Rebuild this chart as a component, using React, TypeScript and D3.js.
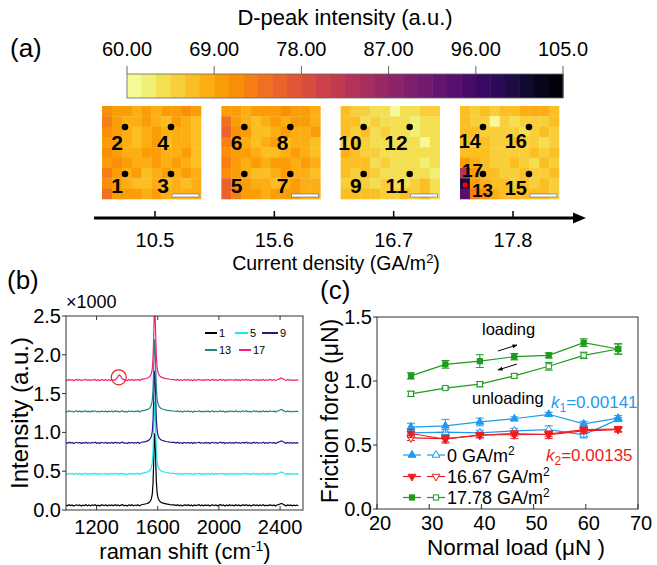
import React from 'react';
import * as d3 from 'd3';

const FONT = 'Liberation Sans, Arial, Helvetica, sans-serif';

// ---- (a) colour bar + maps ----
const CBAR_TICKS = [60, 69, 78, 87, 96, 105];
const CBAR_LABELS = ['60.00', '69.00', '78.00', '87.00', '96.00', '105.0'];
const DENSITIES = ['10.5', '15.6', '16.7', '17.8'];

const MAP_1 = [
  [71, 69, 69, 68, 69, 68, 69, 70, 71, 69],
  [73, 70, 68, 68, 69, 68, 67, 69, 68, 67],
  [71, 69, 68, 67, 68, 69, 68, 68, 68, 67],
  [70, 69, 68, 66, 68, 69, 67, 68, 68, 66],
  [71, 70, 68, 68, 70, 69, 68, 68, 69, 67],
  [70, 71, 69, 68, 68, 70, 68, 69, 68, 67],
  [72, 70, 68, 69, 67, 68, 69, 68, 69, 68],
  [71, 69, 68, 67, 66, 68, 67, 68, 67, 68],
  [74, 70, 69, 69, 68, 69, 68, 68, 68, 68],
];
const MAP_2 = [
  [69, 70, 68, 69, 70, 69, 71, 70, 70, 68],
  [74, 70, 68, 67, 68, 69, 68, 70, 69, 68],
  [75, 71, 69, 67, 66, 68, 69, 68, 68, 69],
  [72, 70, 68, 66, 68, 69, 67, 68, 68, 67],
  [71, 70, 69, 68, 67, 66, 68, 69, 68, 67],
  [72, 70, 68, 69, 68, 69, 70, 68, 69, 68],
  [71, 69, 68, 67, 66, 68, 69, 68, 68, 67],
  [75, 71, 69, 68, 68, 67, 68, 69, 68, 68],
  [76, 72, 70, 69, 68, 69, 69, 70, 68, 68],
];
const MAP_3 = [
  [66, 65, 65, 63, 64, 61, 63, 64, 65, 65],
  [67, 66, 64, 65, 63, 64, 63, 62, 64, 64],
  [66, 65, 66, 64, 65, 63, 64, 62, 63, 64],
  [65, 66, 65, 64, 64, 64, 63, 64, 61, 64],
  [68, 66, 65, 65, 64, 63, 64, 63, 63, 64],
  [67, 67, 66, 64, 65, 64, 63, 64, 62, 63],
  [66, 65, 66, 65, 64, 64, 63, 64, 63, 62],
  [65, 66, 65, 64, 65, 63, 64, 65, 66, 64],
  [66, 67, 66, 66, 65, 65, 66, 65, 66, 64],
];
const MAP_4 = [
  [66, 65, 66, 65, 66, 67, 68, 68, 68, 67],
  [66, 65, 65, 61, 65, 64, 65, 65, 65, 66],
  [67, 66, 65, 65, 65, 65, 64, 65, 66, 65],
  [66, 65, 66, 65, 65, 66, 65, 65, 64, 65],
  [67, 66, 66, 65, 65, 65, 65, 66, 65, 66],
  [70, 68, 66, 65, 65, 66, 65, 64, 66, 65],
  [83, 69, 67, 66, 65, 65, 66, 65, 65, 66],
  [100, 70, 68, 66, 66, 65, 66, 65, 66, 65],
  [94, 72, 71, 68, 67, 66, 66, 66, 66, 65],
];
const MAPS = [MAP_1, MAP_2, MAP_3, MAP_4];
// point numbers per map: [top-left, top-right, bottom-left, bottom-right]
const POINT_LABELS = [
  ['2', '4', '1', '3'],
  ['6', '8', '5', '7'],
  ['10', '12', '9', '11'],
  ['14', '16', '13', '15'],
];

// ---- (b) raman spectra ----
const SPECTRA_NAMES = ['1', '5', '9', '13', '17'];
const SPECTRA_COLORS = ['#000000', '#1fe6e6', '#1c1c8a', '#1f8585', '#f5207d'];
const SPECTRA_OFFSETS = [0.06, 0.465, 0.865, 1.27, 1.675];
// baseline noise, thousandths, 1000..2520 cm-1 every 10
const BASE_NOISE = [
  4, -6, 8, -3, 5, -9, 2, 7, -4, 6, -8, 3, -2, 9, -5, 4, -7, 6, -1, 8,
  -6, 3, -9, 5, 2, -4, 7, -8, 4, -3, 6, -6, 9, -2, 5, -7, 3, 8, -5, 1,
  -9, 6, -3, 7, -6, 4, -2, 8, -7, 5, -4, 3, 6, -8, 2, -5, 9, -3, 4, -6,
  7, -2, 5, -9, 3, 6, -4, 8, -7, 2, -5, 6, -3, 9, -6, 4, -8, 3, 5, -2,
  7, -6, 4, -9, 6, -3, 2, 8, -5, 4, -7, 5, -2, 6, -8, 3, 7, -4, 5, -6,
  2, 8, -3, 6, -9, 4, -5, 7, -2, 3, -6, 8, -4, 5, -7, 2, 6, -3, 9, -5,
  4, -8, 3, 6, -2, 5, -7, 4, -4, 8, -6, 3, -5, 7, 2, -3, 6, -8, 4, 9,
  18, 26, 14, 3, -5, 6, -4, 5, -7, 2, -3, 4, -6,
];
const G_PEAK = [
  [1495, 0.008], [1510, 0.014], [1525, 0.02], [1540, 0.032], [1550, 0.05],
  [1558, 0.08], [1564, 0.14], [1569, 0.28], [1573, 0.52], [1577, 0.82],
  [1580, 0.93], [1583, 0.84], [1587, 0.55], [1591, 0.3], [1596, 0.16],
  [1602, 0.095], [1610, 0.06], [1620, 0.04], [1635, 0.028], [1655, 0.018],
  [1680, 0.01], [1700, 0.006],
];
const D_PEAK_17 = [
  [1300, 0.004], [1315, -0.004], [1325, 0.01], [1335, 0.03], [1343, 0.055],
  [1350, 0.065], [1357, 0.05], [1365, 0.025], [1375, 0.008], [1390, -0.004],
];

// ---- (c) friction ----
const LOADS = [26.5, 33.1, 39.7, 46.3, 52.9, 59.6, 66.2];
const BLUE_LOADING = [0.64, 0.65, 0.68, 0.705, 0.74, 0.665, 0.71];
const BLUE_LOADING_ERR = [0.03, 0.05, 0.03, 0.015, 0.015, 0.02, 0.02];
const BLUE_UNLOADING = [0.595, 0.6, 0.595, 0.61, 0.62, 0.58, 0.7];
const BLUE_UNLOADING_ERR = [0.01, 0.02, 0.02, 0.02, 0.03, 0.025, 0.015];
const RED_LOADING = [0.59, 0.545, 0.58, 0.58, 0.585, 0.62, 0.625];
const RED_LOADING_ERR = [0.03, 0.03, 0.02, 0.03, 0.02, 0.02, 0.02];
const RED_UNLOADING = [0.555, 0.55, 0.575, 0.59, 0.58, 0.61, 0.62];
const RED_UNLOADING_ERR = [0.02, 0.025, 0.02, 0.02, 0.03, 0.02, 0.02];
const GREEN_LOADING = [1.04, 1.13, 1.155, 1.19, 1.2, 1.3, 1.25];
const GREEN_LOADING_ERR = [0.025, 0.03, 0.05, 0.025, 0.02, 0.03, 0.04];
const GREEN_UNLOADING = [0.9, 0.945, 0.975, 1.04, 1.115, 1.2, 1.25];
const GREEN_UNLOADING_ERR = [0.02, 0.01, 0.02, 0.015, 0.03, 0.025, 0.04];
const LEGEND_C = ['0 GA/m', '16.67 GA/m', '17.78 GA/m'];

const BLUE = '#1f9bef';
const RED = '#ee1d1d';
const GREEN = '#1d9b1d';

const cbarX = d3.scaleLinear().domain([60, 105]).range([127, 563]);
const heat = (v: number) => {
  const step = 1.5;
  const bin = Math.min(29, Math.floor((v - 60) / step));
  const t = (bin + 0.5) / 30;
  return d3.interpolateInferno(1 - t);
};
const densX = d3.scalePoint<string>().domain(DENSITIES).range([155, 513]);

function labelY(row: number) {
  return row === 0 ? 44 : 87;
}

function PanelA() {
  const bins = d3.range(30);
  const imgW = 99;
  const imgH = 93;
  const cw = imgW / 10;
  const ch = imgH / 9;
  const dotPos = [[23, 21], [69, 21], [23, 68], [69, 68]];
  return (
    <g>
      <text x={10} y={57} fontSize={26}>(a)</text>
      <text x={345} y={25} fontSize={22} textAnchor="middle">D-peak intensity (a.u.)</text>
      {bins.map((b) => (
        <rect key={b} x={cbarX(60 + b * 1.5)} y={74}
          width={cbarX(61.5) - cbarX(60) + 0.5} height={24} fill={heat(60 + b * 1.5 + 0.1)} />
      ))}
      <rect x={127} y={74} width={436} height={24} fill="none" stroke="#666" strokeWidth={0.8} />
      {CBAR_TICKS.map((t, i) => (
        <g key={t}>
          <line x1={cbarX(t)} x2={cbarX(t)} y1={66} y2={74} stroke="#666" strokeWidth={1} />
          <text x={cbarX(t)} y={56} fontSize={20} textAnchor="middle">{CBAR_LABELS[i]}</text>
        </g>
      ))}
      {MAPS.map((m, k) => {
        const x0 = (densX(DENSITIES[k]) as number) - 53;
        const y0 = 106;
        return (
          <g key={k}>
            {m.map((row, r) => row.map((v, c) => (
              <rect key={`${r}-${c}`} x={x0 + c * cw} y={y0 + r * ch}
                width={cw + 0.3} height={ch + 0.3} fill={heat(v)} />
            )))}
            <rect x={x0 + imgW - 29} y={y0 + imgH - 5} width={27} height={3}
              fill="#fff" stroke="#777" strokeWidth={0.7} />
            {dotPos.map(([dx, dy], j) => (
              <circle key={j} cx={x0 + dx} cy={y0 + dy} r={3.3} fill="#000" />
            ))}
            {k < 3 ? (
              <>
                <text x={x0 + dotPos[0][0] - 2} y={y0 + labelY(0)} fontSize={21} fontWeight="bold" textAnchor="end">{POINT_LABELS[k][0]}</text>
                <text x={x0 + dotPos[1][0] - 2} y={y0 + labelY(0)} fontSize={21} fontWeight="bold" textAnchor="end">{POINT_LABELS[k][1]}</text>
                <text x={x0 + dotPos[2][0] - 2} y={y0 + labelY(1)} fontSize={21} fontWeight="bold" textAnchor="end">{POINT_LABELS[k][2]}</text>
                <text x={x0 + dotPos[3][0] - 2} y={y0 + labelY(1)} fontSize={21} fontWeight="bold" textAnchor="end">{POINT_LABELS[k][3]}</text>
              </>
            ) : (
              <>
                <text x={x0 + dotPos[0][0] - 2} y={y0 + 42} fontSize={20} fontWeight="bold" textAnchor="end">{POINT_LABELS[k][0]}</text>
                <text x={x0 + dotPos[1][0] - 2} y={y0 + 42} fontSize={20} fontWeight="bold" textAnchor="end">{POINT_LABELS[k][1]}</text>
                <text x={x0 + 2} y={y0 + 71} fontSize={19} fontWeight="bold">17</text>
                <text x={x0 + 12} y={y0 + 91} fontSize={19} fontWeight="bold">{POINT_LABELS[k][2]}</text>
                <text x={x0 + dotPos[3][0] - 2} y={y0 + 89} fontSize={20} fontWeight="bold" textAnchor="end">{POINT_LABELS[k][3]}</text>
                <circle cx={x0 + 5} cy={y0 + 79} r={2.5} fill="#ff0000" />
              </>
            )}
          </g>
        );
      })}
      <line x1={94} x2={576} y1={218} y2={218} stroke="#000" strokeWidth={3} />
      <path d="M573,212.5 L586,218 L573,223.5 Z" fill="#000" />
      {DENSITIES.map((d) => (
        <g key={d}>
          <line x1={densX(d)} x2={densX(d)} y1={211} y2={218} stroke="#000" strokeWidth={1.5} />
          <text x={densX(d)} y={247} fontSize={20} textAnchor="middle">{d}</text>
        </g>
      ))}
      <text x={336} y={270} fontSize={19.5} textAnchor="middle">
        Current density (GA/m<tspan dy={-7} fontSize={13}>2</tspan><tspan dy={7}>)</tspan>
      </text>
    </g>
  );
}

function PanelB() {
  const x = d3.scaleLinear().domain([1000, 2550]).range([66, 303]);
  const y = d3.scaleLinear().domain([0, 2.5]).range([510, 316]);
  const baseX = d3.range(1000, 2521, 10);
  const base: [number, number][] = baseX
    .map((s, i) => [s, BASE_NOISE[i] / 1000] as [number, number])
    .filter(([s]) => s < 1495 || s > 1700);
  const profile = [...base, ...(G_PEAK as [number, number][])].sort((a, b) => a[0] - b[0]);
  const profile17 = [
    ...profile.filter(([s]) => s < 1300 || s > 1390),
    ...(D_PEAK_17 as [number, number][]),
  ].sort((a, b) => a[0] - b[0]);
  const line = d3.line<[number, number]>().x((d) => x(d[0])).y((d) => y(d[1]));
  const yTicks = [0, 0.5, 1, 1.5, 2, 2.5];
  const xTicks = [1200, 1600, 2000, 2400];
  const legendItems = [
    { n: 0, lx: 205, ly: 333, w: 12 },
    { n: 1, lx: 235, ly: 333, w: 13 },
    { n: 2, lx: 262, ly: 333, w: 16 },
    { n: 3, lx: 205, ly: 350, w: 12 },
    { n: 4, lx: 239, ly: 350, w: 12 },
  ];
  return (
    <g>
      <text x={7} y={289} fontSize={26}>(b)</text>
      <text x={66} y={308} fontSize={18}>×1000</text>
      <clipPath id="clipB"><rect x={66} y={316} width={237} height={194} /></clipPath>
      <g clipPath="url(#clipB)">
        {SPECTRA_NAMES.map((n, i) => (
          <path key={n} d={line((i === 4 ? profile17 : profile).map(([s, v]) => [s, v + SPECTRA_OFFSETS[i]] as [number, number])) || ''}
            fill="none" stroke={SPECTRA_COLORS[i]} strokeWidth={1.2} />
        ))}
      </g>
      <circle cx={x(1345)} cy={y(1.71)} r={7.5} fill="none" stroke="#ee1d1d" strokeWidth={1.2} />
      <rect x={66} y={316} width={237} height={194} fill="none" stroke="#333" strokeWidth={1} />
      {yTicks.map((t) => (
        <g key={t}>
          <line x1={62} x2={66} y1={y(t)} y2={y(t)} stroke="#333" />
          <text x={61} y={y(t) + 7} fontSize={20} textAnchor="end">{t.toFixed(1)}</text>
        </g>
      ))}
      {xTicks.map((t) => (
        <g key={t}>
          <line x1={x(t)} x2={x(t)} y1={510} y2={506} stroke="#333" />
          <line x1={x(t)} x2={x(t)} y1={316} y2={320} stroke="#333" />
          <text x={x(t)} y={534} fontSize={20} textAnchor="middle">{t}</text>
        </g>
      ))}
      <text x={185} y={559} fontSize={22} textAnchor="middle">
        raman shift (cm<tspan dy={-8} fontSize={14}>-1</tspan><tspan dy={8}>)</tspan>
      </text>
      <text transform="translate(28,413) rotate(-90)" fontSize={24} textAnchor="middle">Intensity (a.u.)</text>
      {legendItems.map((it) => (
        <g key={it.n}>
          <line x1={it.lx} x2={it.lx + it.w} y1={it.ly} y2={it.ly} stroke={SPECTRA_COLORS[it.n]} strokeWidth={2} />
          <text x={it.lx + it.w + 2} y={it.ly + 4} fontSize={11}>{SPECTRA_NAMES[it.n]}</text>
        </g>
      ))}
    </g>
  );
}

type Series = { vals: number[]; errs: number[]; color: string; shape: 'up' | 'down' | 'square'; filled: boolean };

function Marker({ cx, cy, shape, filled, color }: { cx: number; cy: number; shape: string; filled: boolean; color: string }) {
  if (shape === 'square') {
    return <rect x={cx - 2.6} y={cy - 2.6} width={5.2} height={5.2} fill={filled ? color : '#fff'} stroke={color} strokeWidth={1} />;
  }
  const p = d3.symbol(d3.symbolTriangle, 26)() || '';
  return (
    <path d={p} transform={`translate(${cx},${cy})${shape === 'down' ? ' rotate(180)' : ''}`}
      fill={filled ? color : '#fff'} stroke={color} strokeWidth={1} />
  );
}

function PanelC() {
  const x = d3.scaleLinear().domain([20, 70]).range([377, 638]);
  const y = d3.scaleLinear().domain([0, 1.5]).range([509, 317]);
  const series: Series[] = [
    { vals: BLUE_UNLOADING, errs: BLUE_UNLOADING_ERR, color: BLUE, shape: 'up', filled: false },
    { vals: BLUE_LOADING, errs: BLUE_LOADING_ERR, color: BLUE, shape: 'up', filled: true },
    { vals: RED_UNLOADING, errs: RED_UNLOADING_ERR, color: RED, shape: 'down', filled: false },
    { vals: RED_LOADING, errs: RED_LOADING_ERR, color: RED, shape: 'down', filled: true },
    { vals: GREEN_UNLOADING, errs: GREEN_UNLOADING_ERR, color: GREEN, shape: 'square', filled: false },
    { vals: GREEN_LOADING, errs: GREEN_LOADING_ERR, color: GREEN, shape: 'square', filled: true },
  ];
  const line = d3.line<number>().x((_, i) => x(LOADS[i])).y((d) => y(d));
  const legendColors = [BLUE, RED, GREEN];
  const legendShapes = ['up', 'down', 'square'];
  const legendY = [455, 476.5, 497.5];
  return (
    <g>
      <text x={320} y={298.5} fontSize={26}>(c)</text>
      <defs>
        <marker id="arrowhead" viewBox="0 0 10 10" refX={9} refY={5} markerWidth={5} markerHeight={5} orient="auto">
          <path d="M0,1 L10,5 L0,9 Z" fill="#000" />
        </marker>
      </defs>
      {series.map((s, k) => (
        <g key={k}>
          <path d={line(s.vals) || ''} fill="none" stroke={s.color} strokeWidth={1.2} />
          {s.vals.map((v, i) => (
            <g key={i}>
              <line x1={x(LOADS[i])} x2={x(LOADS[i])} y1={y(v - s.errs[i])} y2={y(v + s.errs[i])} stroke={s.color} strokeWidth={1} />
              <line x1={x(LOADS[i]) - 4} x2={x(LOADS[i]) + 4} y1={y(v - s.errs[i])} y2={y(v - s.errs[i])} stroke={s.color} strokeWidth={1} />
              <line x1={x(LOADS[i]) - 4} x2={x(LOADS[i]) + 4} y1={y(v + s.errs[i])} y2={y(v + s.errs[i])} stroke={s.color} strokeWidth={1} />
              <Marker cx={x(LOADS[i])} cy={y(v)} shape={s.shape} filled={s.filled} color={s.color} />
            </g>
          ))}
        </g>
      ))}
      <rect x={377} y={317} width={261} height={192} fill="none" stroke="#333" strokeWidth={1} />
      {[0, 0.5, 1, 1.5].map((t) => (
        <g key={t}>
          <line x1={373} x2={377} y1={y(t)} y2={y(t)} stroke="#333" />
          <text x={372} y={y(t) + 7} fontSize={20} textAnchor="end">{t.toFixed(1)}</text>
        </g>
      ))}
      {[20, 30, 40, 50, 60, 70].map((t) => (
        <g key={t}>
          <line x1={x(t)} x2={x(t)} y1={509} y2={504} stroke="#333" />
          <text x={x(t) + 3} y={530} fontSize={20} textAnchor="middle">{t}</text>
        </g>
      ))}
      <text x={427} y={555} fontSize={22.5}>Normal load (μN )</text>
      <text transform="translate(338,411) rotate(-90)" fontSize={23} textAnchor="middle">Friction force (μN)</text>
      <text x={482} y={335} fontSize={16.5}>loading</text>
      <line x1={498} y1={351} x2={517} y2={345} stroke="#000" strokeWidth={1} markerEnd="url(#arrowhead)" />
      <text x={472} y={404} fontSize={16.5}>unloading</text>
      <line x1={517} y1={364} x2={498} y2={370} stroke="#000" strokeWidth={1} markerEnd="url(#arrowhead)" />
      <text x={551} y={408} fontSize={17} fill={BLUE}>
        <tspan fontStyle="italic">k</tspan><tspan dy={4} fontSize={12}>1</tspan><tspan dy={-4}>=0.00141</tspan>
      </text>
      <text x={546} y={461} fontSize={17} fill={RED}>
        <tspan fontStyle="italic">k</tspan><tspan dy={4} fontSize={12}>2</tspan><tspan dy={-4}>=0.00135</tspan>
      </text>
      {LEGEND_C.map((lab, i) => (
        <g key={lab}>
          <line x1={403} x2={421} y1={legendY[i]} y2={legendY[i]} stroke={legendColors[i]} strokeWidth={1.2} />
          <line x1={427} x2={445} y1={legendY[i]} y2={legendY[i]} stroke={legendColors[i]} strokeWidth={1.2} />
          <Marker cx={412} cy={legendY[i]} shape={legendShapes[i]} filled={true} color={legendColors[i]} />
          <Marker cx={436} cy={legendY[i]} shape={legendShapes[i]} filled={false} color={legendColors[i]} />
          <text x={447} y={legendY[i] + 6.5} fontSize={18}>
            {lab}<tspan dy={-7} fontSize={12}>2</tspan>
          </text>
        </g>
      ))}
    </g>
  );
}

export default function App() {
  return (
    <svg width={657} height={565} fontFamily={FONT}
      style={{ position: 'absolute', left: 0, top: 0, background: '#fff' }}>
      <rect width={657} height={565} fill="#fff" />
      <PanelA />
      <PanelB />
      <PanelC />
    </svg>
  );
}
